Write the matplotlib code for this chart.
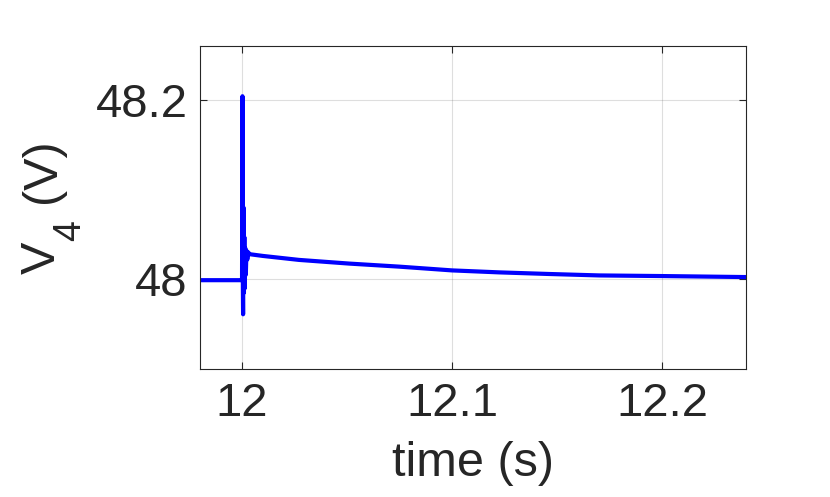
import matplotlib
matplotlib.use("Agg")
import matplotlib.pyplot as plt

# time (s) and voltage V4 (V)
t = [11.98, 11.99, 11.9995, 12.0000, 12.0002, 12.0004, 12.0005, 12.0007,
     12.0009, 12.0011, 12.0013, 12.0015, 12.0018, 12.0021, 12.0025,
     12.0030, 12.0035, 12.0100, 12.0271, 12.0510, 12.0748, 12.1000,
     12.1224, 12.1462, 12.1700, 12.2000, 12.2390, 12.2400]
v4 = [47.999, 47.999, 47.999, 47.999, 48.204, 47.990, 47.961, 48.080,
      47.985, 48.047, 47.990, 48.035, 48.005, 48.032, 48.022,
      48.030, 48.028, 48.026, 48.0216, 48.0175, 48.0141, 48.0099,
      48.0077, 48.0059, 48.0043, 48.0036, 48.0025, 48.0025]

xticks = [12, 12.1, 12.2]
xticklabels = ["12", "12.1", "12.2"]
yticks = [48, 48.2]
yticklabels = ["48", "48.2"]

plt.rcParams["font.family"] = ["Liberation Sans", "DejaVu Sans"]
dark = (0.15, 0.15, 0.15)
W, H = 830, 497

fig = plt.figure(figsize=(8.3, 4.97), dpi=100)
ax = fig.add_axes([0.241, 0.2575, 0.658, 0.65])

ax.plot(t, v4, color="#0000ff", linewidth=3.0)

ax.set_xlim(11.98, 12.24)
ax.set_ylim(47.9, 48.26)
ax.set_xticks(xticks)
ax.set_xticklabels(xticklabels)
ax.set_yticks(yticks)
ax.set_yticklabels(yticklabels)

ax.grid(True, color=(0.15, 0.15, 0.15), alpha=0.15, linewidth=0.8)
ax.tick_params(direction="in", length=5, width=0.8, colors=dark,
               labelsize=34, top=True, right=True, pad=9)
for s in ax.spines.values():
    s.set_color(dark)
    s.set_linewidth(0.8)

ax.set_xlabel("time (s)", fontsize=35, color=dark, labelpad=11)

# y label built from pieces so the subscript sits low like the original
kw = dict(rotation=90, rotation_mode="anchor", ha="left", va="baseline",
          color=dark)
fig.text(55 / W, 1 - 274 / H, "V", fontsize=35, **kw)
fig.text(80 / W, 1 - 241 / H, "4", fontsize=27, **kw)
fig.text(55 / W, 1 - 203 / H, "(V)", fontsize=35, **kw)

fig.savefig("out.png", dpi=100)
